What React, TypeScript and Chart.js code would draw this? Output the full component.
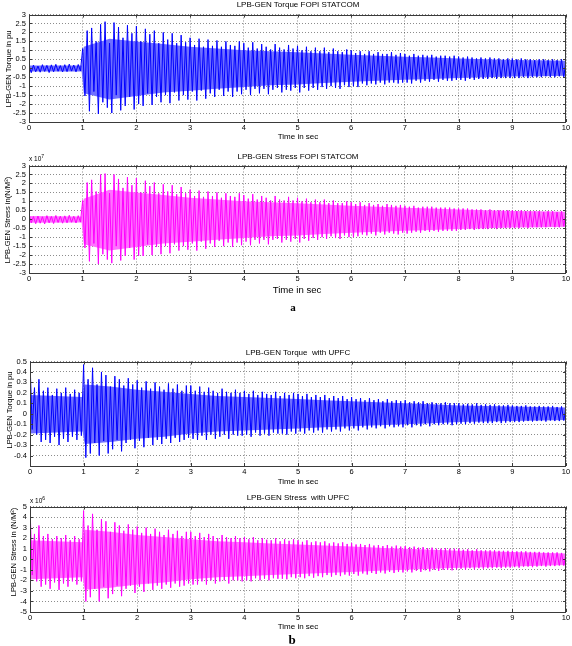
import React, { useEffect, useRef } from "react";
import { Chart, registerables } from "chart.js";
Chart.register(...registerables);

// ---------- data ----------
const CYCLES_PER_SEC = 12; // visible oscillation peaks per second (max/min pairs)
const X_MIN = 0;
const X_MAX = 10;
const X_STEP = 1;

// Envelope (lighter inner band) sample times
const ENV_T = [0, 0.98, 1.02, 1.5, 2, 2.5, 3, 3.5, 4, 4.5, 5, 5.5, 6, 6.5, 7, 7.5, 8, 8.5, 9, 9.5, 10];

// Panel a-1 : LPB-GEN Torque FOPI STATCOM (pu) – alternating max/min per cycle
const TORQUE_FOPI = [
  0.15, -0.25, 0.18, -0.2, 0.12, -0.22, 0.2, -0.18, 0.16, -0.24, 0.19, -0.2, 0.22, -0.17, 0.15, -0.21, 0.2, -0.19, 0.23, -0.16, 0.18, -0.2, 0.21, -0.15,
  1.1, -1.55, 2.1, -2.4, 2.25, -1.3, 1.5, -2.55, 2.45, -1.9, 2.6, -2.2, 1.4, -2.5, 2.55, -1.5, 2.3, -2.35, 1.7, -2.1, 2.4, -1.6, 1.95, -2.3,
  2.35, -2.0, 1.5, -2.1, 2.2, -1.4, 1.9, -2.05, 2.1, -1.6, 1.4, -1.9, 2.0, -1.5, 1.6, -1.95, 1.95, -1.35, 1.4, -1.8, 1.85, -1.5, 1.45, -1.75,
  1.7, -1.3, 1.3, -1.8, 1.65, -1.25, 1.2, -1.7, 1.6, -1.4, 1.25, -1.6, 1.55, -1.2, 1.2, -1.55, 1.5, -1.3, 1.3, -1.6, 1.25, -1.3, 1.5, -1.45,
  1.4, -1.2, 1.15, -1.5, 1.45, -1.15, 1.1, -1.4, 1.35, -1.15, 1.2, -1.45, 1.05, -1.2, 1.35, -1.1, 1.15, -1.35, 1.05, -1.2, 1.3, -1.25, 1.1, -1.1,
  1.25, -1.35, 1.0, -1.1, 1.2, -1.25, 0.95, -1.1, 1.15, -1.2, 0.95, -1.05, 1.15, -1.15, 0.9, -1.0, 1.1, -1.1, 0.95, -1.15, 0.9, -0.95, 1.05, -1.05,
  1.0, -1.0, 0.85, -1.05, 0.95, -0.85, 0.8, -0.95, 0.95, -0.85, 0.8, -0.9, 0.9, -0.8, 0.8, -0.9, 0.8, -0.8, 0.9, -0.8, 0.75, -0.85, 0.85, -0.8,
  0.8, -0.8, 0.7, -0.85, 0.8, -0.7, 0.7, -0.8, 0.75, -0.7, 0.7, -0.75, 0.75, -0.65, 0.65, -0.75, 0.7, -0.65, 0.7, -0.7, 0.65, -0.7, 0.7, -0.65,
  0.65, -0.65, 0.6, -0.7, 0.65, -0.6, 0.6, -0.65, 0.55, -0.6, 0.6, -0.6, 0.55, -0.6, 0.6, -0.55, 0.55, -0.6, 0.55, -0.55, 0.5, -0.55, 0.55, -0.55,
  0.55, -0.55, 0.5, -0.55, 0.55, -0.5, 0.5, -0.55, 0.5, -0.5, 0.45, -0.5, 0.5, -0.5, 0.5, -0.45, 0.45, -0.5, 0.5, -0.5, 0.45, -0.45, 0.5, -0.5, 0.45,
];
const TORQUE_FOPI_ENV_HI = [0.15, 0.15, 1.2, 1.65, 1.5, 1.35, 1.2, 1.1, 1.0, 0.95, 0.9, 0.82, 0.76, 0.7, 0.64, 0.6, 0.55, 0.5, 0.46, 0.44, 0.42];
const TORQUE_FOPI_ENV_LO = [-0.18, -0.18, -1.4, -1.75, -1.55, -1.35, -1.25, -1.15, -1.05, -0.95, -0.9, -0.82, -0.76, -0.7, -0.64, -0.6, -0.55, -0.5, -0.46, -0.44, -0.42];

// Panel a-2 : LPB-GEN Stress FOPI STATCOM (x 10^7 N/M^2)
const STRESS_FOPI = [
  0.3, -0.2, 0.15, -0.25, 0.18, -0.22, 0.14, -0.26, 0.2, -0.2, 0.16, -0.24, 0.21, -0.18, 0.17, -0.22, 0.19, -0.2, 0.22, -0.17, 0.17, -0.21, 0.2, -0.16,
  1.05, -1.6, 2.05, -2.35, 2.2, -1.35, 1.55, -2.5, 2.5, -1.95, 2.55, -2.25, 1.45, -2.45, 2.5, -1.5, 2.25, -2.3, 1.75, -2.05, 2.35, -1.6, 1.9, -2.25,
  2.3, -2.05, 1.5, -2.05, 2.15, -1.4, 1.85, -2.0, 2.05, -1.55, 1.45, -1.95, 1.95, -1.5, 1.55, -1.9, 1.9, -1.4, 1.4, -1.75, 1.8, -1.5, 1.45, -1.7,
  1.65, -1.35, 1.3, -1.75, 1.6, -1.25, 1.25, -1.65, 1.55, -1.35, 1.3, -1.55, 1.5, -1.2, 1.2, -1.5, 1.45, -1.3, 1.3, -1.55, 1.25, -1.3, 1.45, -1.45,
  1.35, -1.25, 1.15, -1.45, 1.4, -1.15, 1.1, -1.35, 1.3, -1.15, 1.2, -1.4, 1.05, -1.15, 1.3, -1.1, 1.1, -1.3, 1.05, -1.15, 1.25, -1.25, 1.05, -1.1,
  1.2, -1.3, 1.0, -1.1, 1.15, -1.2, 0.95, -1.05, 1.1, -1.15, 0.95, -1.0, 1.1, -1.1, 0.9, -0.95, 1.05, -1.05, 0.9, -1.1, 0.9, -0.9, 1.0, -1.0,
  0.95, -1.0, 0.85, -0.95, 0.95, -0.85, 0.8, -0.9, 0.9, -0.8, 0.8, -0.9, 0.85, -0.75, 0.75, -0.85, 0.85, -0.75, 0.8, -0.8, 0.75, -0.85, 0.8, -0.75,
  0.75, -0.8, 0.7, -0.75, 0.75, -0.7, 0.65, -0.75, 0.7, -0.65, 0.7, -0.7, 0.7, -0.65, 0.65, -0.7, 0.65, -0.65, 0.65, -0.65, 0.65, -0.65, 0.6, -0.65,
  0.6, -0.6, 0.6, -0.6, 0.6, -0.55, 0.55, -0.6, 0.55, -0.55, 0.55, -0.55, 0.5, -0.55, 0.55, -0.5, 0.5, -0.55, 0.5, -0.5, 0.5, -0.5, 0.5, -0.5,
  0.5, -0.5, 0.45, -0.5, 0.5, -0.45, 0.45, -0.5, 0.45, -0.45, 0.45, -0.45, 0.45, -0.45, 0.4, -0.45, 0.45, -0.4, 0.45, -0.45, 0.4, -0.45, 0.45, -0.4, 0.42,
];
const STRESS_FOPI_ENV_HI = [0.18, 0.16, 1.15, 1.65, 1.5, 1.35, 1.2, 1.1, 1.0, 0.95, 0.9, 0.82, 0.76, 0.7, 0.64, 0.6, 0.55, 0.5, 0.46, 0.44, 0.42];
const STRESS_FOPI_ENV_LO = [-0.2, -0.18, -1.4, -1.75, -1.55, -1.35, -1.25, -1.15, -1.05, -0.95, -0.9, -0.82, -0.76, -0.7, -0.64, -0.6, -0.55, -0.5, -0.46, -0.44, -0.42];

// Panel b-1 : LPB-GEN Torque with UPFC (pu)
const TORQUE_UPFC = [
  0.5, -0.15, 0.25, -0.2, 0.33, -0.27, 0.22, -0.25, 0.25, -0.28, 0.18, -0.22, 0.24, -0.3, 0.2, -0.24, 0.25, -0.27, 0.19, -0.22, 0.23, -0.25, 0.2, -0.21,
  0.47, -0.42, 0.33, -0.38, 0.44, -0.28, 0.28, -0.4, 0.4, -0.26, 0.37, -0.38, 0.26, -0.34, 0.36, -0.25, 0.33, -0.36, 0.27, -0.28, 0.34, -0.25, 0.28, -0.33,
  0.32, -0.26, 0.25, -0.32, 0.31, -0.23, 0.24, -0.3, 0.3, -0.25, 0.26, -0.29, 0.23, -0.24, 0.29, -0.28, 0.24, -0.23, 0.28, -0.27, 0.22, -0.25, 0.27, -0.23,
  0.27, -0.24, 0.22, -0.25, 0.26, -0.21, 0.21, -0.25, 0.25, -0.2, 0.22, -0.24, 0.2, -0.22, 0.24, -0.2, 0.21, -0.24, 0.2, -0.2, 0.23, -0.21, 0.2, -0.21,
  0.22, -0.2, 0.19, -0.22, 0.22, -0.18, 0.18, -0.21, 0.21, -0.19, 0.19, -0.21, 0.18, -0.18, 0.21, -0.19, 0.17, -0.19, 0.2, -0.2, 0.18, -0.17, 0.2, -0.19,
  0.19, -0.17, 0.17, -0.19, 0.19, -0.16, 0.16, -0.18, 0.18, -0.16, 0.16, -0.18, 0.18, -0.15, 0.15, -0.17, 0.17, -0.15, 0.15, -0.17, 0.17, -0.14, 0.14, -0.16,
  0.16, -0.14, 0.14, -0.16, 0.15, -0.13, 0.13, -0.15, 0.15, -0.13, 0.13, -0.14, 0.14, -0.12, 0.12, -0.14, 0.14, -0.12, 0.12, -0.13, 0.13, -0.12, 0.12, -0.13,
  0.13, -0.11, 0.11, -0.13, 0.12, -0.11, 0.11, -0.12, 0.12, -0.1, 0.1, -0.12, 0.11, -0.1, 0.1, -0.11, 0.1, -0.1, 0.11, -0.1, 0.1, -0.11, 0.1, -0.1,
  0.1, -0.095, 0.09, -0.1, 0.095, -0.09, 0.09, -0.095, 0.1, -0.085, 0.085, -0.09, 0.09, -0.09, 0.085, -0.09, 0.09, -0.08, 0.08, -0.09, 0.08, -0.085, 0.085, -0.08,
  0.08, -0.08, 0.075, -0.08, 0.075, -0.075, 0.08, -0.07, 0.07, -0.075, 0.07, -0.07, 0.075, -0.07, 0.07, -0.075, 0.07, -0.065, 0.075, -0.07, 0.065, -0.07, 0.07, -0.065, 0.06,
];
const TORQUE_UPFC_ENV_HI = [0.18, 0.16, 0.28, 0.26, 0.23, 0.21, 0.19, 0.17, 0.16, 0.15, 0.14, 0.13, 0.12, 0.11, 0.1, 0.09, 0.08, 0.075, 0.07, 0.065, 0.06];
const TORQUE_UPFC_ENV_LO = [-0.19, -0.17, -0.29, -0.27, -0.24, -0.22, -0.19, -0.17, -0.16, -0.15, -0.14, -0.13, -0.12, -0.11, -0.1, -0.09, -0.08, -0.075, -0.07, -0.065, -0.06];

// Panel b-2 : LPB-GEN Stress with UPFC (x 10^6 N/M^2)
const STRESS_UPFC = [
  5.0, -1.5, 2.4, -2.1, 3.2, -2.6, 2.2, -2.4, 2.4, -2.8, 1.9, -2.2, 2.2, -2.9, 2.0, -2.3, 2.3, -2.6, 1.8, -2.1, 2.2, -2.4, 1.9, -2.1,
  4.6, -4.0, 3.2, -3.6, 4.3, -2.8, 2.8, -4.0, 3.8, -2.6, 3.6, -3.7, 2.6, -3.3, 3.5, -2.5, 3.2, -3.5, 2.7, -2.8, 3.3, -2.5, 2.8, -3.2,
  3.1, -2.6, 2.5, -3.1, 3.0, -2.3, 2.4, -2.9, 2.9, -2.5, 2.6, -2.8, 2.3, -2.4, 2.8, -2.7, 2.4, -2.3, 2.7, -2.6, 2.2, -2.5, 2.6, -2.3,
  2.6, -2.4, 2.2, -2.4, 2.5, -2.1, 2.1, -2.4, 2.4, -2.0, 2.2, -2.3, 2.0, -2.1, 2.3, -2.0, 2.1, -2.3, 2.0, -2.0, 2.2, -2.0, 2.0, -2.1,
  2.1, -2.0, 1.9, -2.1, 2.1, -1.8, 1.8, -2.0, 2.0, -1.85, 1.85, -2.0, 1.8, -1.8, 2.0, -1.85, 1.7, -1.85, 1.9, -1.9, 1.75, -1.7, 1.9, -1.8,
  1.8, -1.7, 1.65, -1.8, 1.8, -1.6, 1.6, -1.75, 1.7, -1.6, 1.6, -1.7, 1.7, -1.5, 1.5, -1.65, 1.6, -1.5, 1.5, -1.6, 1.6, -1.45, 1.45, -1.55,
  1.55, -1.4, 1.4, -1.55, 1.45, -1.35, 1.35, -1.45, 1.45, -1.3, 1.3, -1.4, 1.35, -1.25, 1.25, -1.35, 1.35, -1.2, 1.2, -1.3, 1.3, -1.2, 1.2, -1.25,
  1.25, -1.15, 1.15, -1.25, 1.2, -1.1, 1.1, -1.2, 1.15, -1.05, 1.05, -1.15, 1.1, -1.0, 1.0, -1.1, 1.0, -1.0, 1.05, -1.0, 1.0, -1.05, 1.0, -0.95,
  1.0, -0.9, 0.9, -1.0, 0.95, -0.85, 0.85, -0.95, 0.95, -0.85, 0.85, -0.9, 0.85, -0.85, 0.85, -0.85, 0.85, -0.8, 0.8, -0.85, 0.8, -0.8, 0.8, -0.8,
  0.8, -0.75, 0.75, -0.8, 0.75, -0.7, 0.75, -0.7, 0.7, -0.75, 0.7, -0.7, 0.7, -0.65, 0.65, -0.7, 0.65, -0.65, 0.65, -0.65, 0.65, -0.6, 0.6, -0.6, 0.55,
];
const STRESS_UPFC_ENV_HI = [1.8, 1.6, 2.8, 2.6, 2.3, 2.1, 1.9, 1.7, 1.6, 1.5, 1.4, 1.3, 1.2, 1.1, 1.0, 0.9, 0.8, 0.75, 0.68, 0.62, 0.55];
const STRESS_UPFC_ENV_LO = [-1.9, -1.7, -2.9, -2.7, -2.4, -2.2, -1.9, -1.7, -1.6, -1.5, -1.4, -1.3, -1.2, -1.1, -1.0, -0.9, -0.8, -0.75, -0.68, -0.62, -0.55];

// ---------- layout / style ----------
const W = 572;
const PAD_T = 6;
const PAD_B = 12;
const FONT = '"Liberation Sans", Arial, Helvetica, sans-serif';
const BLUE = "rgb(0,0,255)";
const BLUE_LIGHT = "rgb(112,112,255)";
const MAG = "rgb(255,0,255)";
const MAG_LIGHT = "rgb(255,115,255)";

type Panel = {
  area: { left: number; right: number; top: number; bottom: number };
  yMin: number;
  yMax: number;
  yStep: number;
  hide: number[];
  values: number[];
  envHi: number[];
  envLo: number[];
  color: string;
  light: string;
};

const PANELS: Panel[] = [
  { area: { left: 29, right: 566, top: 13, bottom: 122 }, yMin: -3, yMax: 3, yStep: 0.5, hide: [], values: TORQUE_FOPI, envHi: TORQUE_FOPI_ENV_HI, envLo: TORQUE_FOPI_ENV_LO, color: BLUE, light: BLUE_LIGHT },
  { area: { left: 29, right: 566, top: 164, bottom: 273 }, yMin: -3, yMax: 3, yStep: 0.5, hide: [], values: STRESS_FOPI, envHi: STRESS_FOPI_ENV_HI, envLo: STRESS_FOPI_ENV_LO, color: MAG, light: MAG_LIGHT },
  { area: { left: 30, right: 566, top: 360, bottom: 466 }, yMin: -0.5, yMax: 0.5, yStep: 0.1, hide: [-0.5], values: TORQUE_UPFC, envHi: TORQUE_UPFC_ENV_HI, envLo: TORQUE_UPFC_ENV_LO, color: BLUE, light: BLUE_LIGHT },
  { area: { left: 30, right: 566, top: 505, bottom: 612 }, yMin: -5, yMax: 5, yStep: 1, hide: [], values: STRESS_UPFC, envHi: STRESS_UPFC_ENV_HI, envLo: STRESS_UPFC_ENV_LO, color: MAG, light: MAG_LIGHT },
];

const boxPlugin = {
  id: "matlabBox",
  afterDatasetsDraw(chart: any) {
    const { ctx, chartArea: a, scales } = chart;
    ctx.save();
    ctx.strokeStyle = "#3a3a3a";
    ctx.lineWidth = 1;
    ctx.strokeRect(Math.round(a.left) + 0.5, Math.round(a.top) + 0.5, Math.round(a.right - a.left) - 1, Math.round(a.bottom - a.top) - 1);
    const tl = 3;
    ctx.beginPath();
    scales.x.ticks.forEach((t: any) => {
      const px = Math.round(scales.x.getPixelForValue(t.value)) + 0.5;
      ctx.moveTo(px, a.top);
      ctx.lineTo(px, a.top + tl);
      ctx.moveTo(px, a.bottom);
      ctx.lineTo(px, a.bottom - tl);
    });
    scales.y.ticks.forEach((t: any) => {
      const py = Math.round(scales.y.getPixelForValue(t.value)) + 0.5;
      ctx.moveTo(a.left, py);
      ctx.lineTo(a.left + tl, py);
      ctx.moveTo(a.right, py);
      ctx.lineTo(a.right - tl, py);
    });
    ctx.stroke();
    ctx.restore();
  },
};

function fmt(v: number) {
  return String(Math.round(v * 1000) / 1000);
}

function PanelChart({ p }: { p: Panel }) {
  const ref = useRef<HTMLCanvasElement>(null);
  const h = p.area.bottom - p.area.top + PAD_T + PAD_B;
  useEffect(() => {
    if (!ref.current) return;
    const half = 1 / (2 * CYCLES_PER_SEC);
    const wave = p.values.map((v, i) => ({ x: i * half, y: v }));
    const hi = ENV_T.map((t, i) => ({ x: t, y: p.envHi[i] }));
    const lo = ENV_T.map((t, i) => ({ x: t, y: p.envLo[i] }));
    const chart = new Chart(ref.current, {
      type: "line",
      data: {
        datasets: [
          { data: wave, borderColor: p.color, borderWidth: 1, pointRadius: 0, tension: 0, fill: false, order: 0 },
          { data: lo, borderWidth: 0, borderColor: "transparent", pointRadius: 0, fill: false, order: 2 },
          { data: hi, borderWidth: 0, borderColor: "transparent", backgroundColor: p.light, pointRadius: 0, fill: "-1", order: 1 },
        ],
      },
      options: {
        responsive: false,
        animation: false,
        events: [],
        layout: { padding: { top: PAD_T, right: W - p.area.right, left: 0, bottom: 0 } },
        plugins: { legend: { display: false }, tooltip: { enabled: false } },
        scales: {
          x: {
            type: "linear",
            min: X_MIN,
            max: X_MAX,
            ticks: { stepSize: X_STEP, padding: 1, color: "#000", font: { family: FONT, size: 7.5 }, maxRotation: 0, callback: (v: any) => fmt(Number(v)) },
            grid: { color: "rgba(0,0,0,0.45)", drawTicks: false, lineWidth: 1 },
            border: { display: false, dash: [1, 2] },
            afterFit: (s: any) => {
              s.height = PAD_B;
            },
          },
          y: {
            type: "linear",
            min: p.yMin,
            max: p.yMax,
            ticks: {
              stepSize: p.yStep,
              autoSkip: false,
              maxTicksLimit: 30,
              padding: 3,
              color: "#000",
              font: { family: FONT, size: 7.5 },
              callback: (v: any) => (p.hide.some((hv) => Math.abs(hv - Number(v)) < 1e-9) ? "" : fmt(Number(v))),
            },
            grid: { color: "rgba(0,0,0,0.45)", drawTicks: false, lineWidth: 1 },
            border: { display: false, dash: [1, 2] },
            afterFit: (s: any) => {
              s.width = p.area.left;
            },
          },
        },
      },
      plugins: [boxPlugin],
    } as any);
    return () => chart.destroy();
  }, []);
  return (
    <canvas
      ref={ref}
      width={W}
      height={h}
      style={{ position: "absolute", left: 0, top: p.area.top - PAD_T, width: W, height: h }}
    />
  );
}

function Txt({ x, y, size, children, bold, serif, rotate }: any) {
  return (
    <div
      style={{
        position: "absolute",
        left: x,
        top: y,
        transform: `translate(-50%, -50%)${rotate ? " rotate(-90deg)" : ""}`,
        fontFamily: serif ? '"Liberation Serif", "Times New Roman", serif' : FONT,
        fontSize: size,
        fontWeight: bold ? "bold" : "normal",
        lineHeight: 1,
        whiteSpace: "nowrap",
        color: "#000",
      }}
    >
      {children}
    </div>
  );
}

function Expo({ x, y, exp }: { x: number; y: number; exp: string }) {
  return (
    <div style={{ position: "absolute", left: x, top: y, fontFamily: FONT, fontSize: 6.5, lineHeight: 1, whiteSpace: "nowrap", color: "#000" }}>
      x 10<sup style={{ fontSize: 5, verticalAlign: "3px" }}>{exp}</sup>
    </div>
  );
}

export default function App() {
  return (
    <div style={{ position: "absolute", left: 0, top: 0, width: W, height: 646, background: "#fff", overflow: "hidden" }}>
      {PANELS.map((p, i) => (
        <PanelChart key={i} p={p} />
      ))}
      <Txt x={298} y={5} size={8}>LPB-GEN Torque FOPI STATCOM</Txt>
      <Txt x={298} y={137} size={8}>Time in sec</Txt>
      <Txt x={9} y={69} size={7.6} rotate>LPB-GEN Torque in pu</Txt>

      <Txt x={298} y={157} size={8}>LPB-GEN Stress FOPI STATCOM</Txt>
      <Expo x={29} y={154} exp="7" />
      <Txt x={297} y={290} size={9.6}>Time in sec</Txt>
      <Txt x={8} y={220} size={7.6} rotate>LPB-GEN Stress in(N/M²)</Txt>
      <Txt x={293} y={307} size={11} bold serif>a</Txt>

      <Txt x={298} y={353} size={8}>LPB-GEN Torque&nbsp; with UPFC</Txt>
      <Txt x={298} y={482} size={8}>Time in sec</Txt>
      <Txt x={10} y={410} size={7.6} rotate>LPB-GEN Torque in pu</Txt>

      <Txt x={298} y={498} size={8}>LPB-GEN Stress&nbsp; with UPFC</Txt>
      <Expo x={30} y={496} exp="6" />
      <Txt x={298} y={627} size={8}>Time in sec</Txt>
      <Txt x={14} y={552} size={7.6} rotate>LPB-GEN Stress in (N/M²)</Txt>
      <Txt x={292} y={639} size={13} bold serif>b</Txt>
    </div>
  );
}
